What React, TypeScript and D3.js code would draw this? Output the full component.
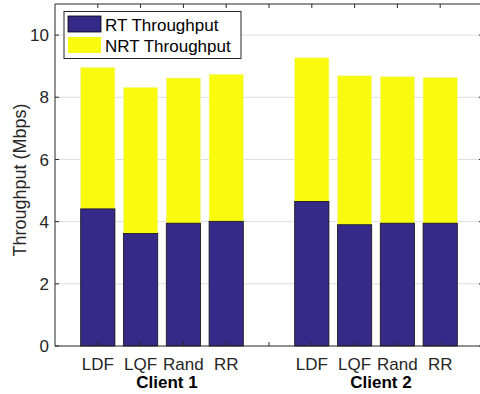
import React from "react";
import * as d3 from "d3";

// Scheduling policies per client and their throughput split (Mbps)
const policies = ["LDF", "LQF", "Rand", "RR"];
const clients = ["Client 1", "Client 2"];
const rtThroughput = [
  [4.41, 3.62, 3.95, 4.01],
  [4.65, 3.9, 3.95, 3.95],
];
const nrtThroughput = [
  [4.55, 4.7, 4.67, 4.73],
  [4.62, 4.79, 4.71, 4.68],
];
const yTicks = [0, 2, 4, 6, 8, 10];
const seriesNames = ["RT Throughput", "NRT Throughput"];
const seriesColors = ["#352a87", "#f9fb0e"];

const W = 480;
const H = 394;
const margin = { left: 55, top: 4, bottom: 48 };
const plotRight = 483;
const axisColor = "#262626";
const font = "'Liberation Sans', Arial, Helvetica, sans-serif";
const fs = 17;

export default function App() {
  const x = d3.scaleLinear().domain([0, 10]).range([margin.left, plotRight]);
  const y = d3.scaleLinear().domain([0, 11]).range([H - margin.bottom, margin.top]);
  const step = x(1) - x(0);
  const barW = step * 0.8;

  // Slot positions: client 1 at 1..4, gap at 5, client 2 at 6..9
  const slot = (ci: number, pi: number) => 1 + ci * (policies.length + 1) + pi;
  const xTickPositions = d3.range(1, 10);

  const bars: React.ReactNode[] = [];
  clients.forEach((_, ci) => {
    policies.forEach((p, pi) => {
      const cx = x(slot(ci, pi));
      const rt = rtThroughput[ci][pi];
      const total = rt + nrtThroughput[ci][pi];
      bars.push(
        <g key={`${ci}-${p}`}>
          <rect
            x={cx - barW / 2}
            y={y(total)}
            width={barW}
            height={y(rt) - y(total)}
            fill={seriesColors[1]}
            stroke="#f4f3a0"
            strokeWidth={0.6}
          />
          <rect
            x={cx - barW / 2}
            y={y(rt)}
            width={barW}
            height={y(0) - y(rt)}
            fill={seriesColors[0]}
            stroke="#111"
            strokeWidth={0.8}
          />
        </g>
      );
    });
  });

  const y0 = y(0);
  const yTop = y(11);

  return (
    <svg
      width={W}
      height={H}
      style={{ position: "absolute", left: 0, top: 0 }}
      fontFamily={font}
    >
      <rect width={W} height={H} fill="#fff" />
      {/* grid */}
      {yTicks.slice(1).map((t) => (
        <line
          key={`g${t}`}
          x1={x(0)}
          x2={plotRight}
          y1={y(t)}
          y2={y(t)}
          stroke="#dedede"
          strokeWidth={1}
        />
      ))}
      {bars}
      {/* axes box */}
      <line x1={x(0)} x2={plotRight} y1={y0} y2={y0} stroke={axisColor} strokeWidth={1} />
      <line x1={x(0)} x2={plotRight} y1={yTop} y2={yTop} stroke={axisColor} strokeWidth={1} />
      <line x1={x(0)} x2={x(0)} y1={yTop} y2={y0} stroke={axisColor} strokeWidth={1} />
      <line x1={plotRight} x2={plotRight} y1={yTop} y2={y0} stroke={axisColor} strokeWidth={1} />
      {/* y ticks */}
      {yTicks.map((t) => (
        <g key={`yt${t}`}>
          <line x1={x(0)} x2={x(0) + 4} y1={y(t)} y2={y(t)} stroke={axisColor} />
          <line x1={plotRight} x2={plotRight - 4} y1={y(t)} y2={y(t)} stroke={axisColor} />
          <text
            x={x(0) - 6}
            y={y(t)}
            dy="0.36em"
            textAnchor="end"
            fontSize={fs}
            fill={axisColor}
          >
            {t}
          </text>
        </g>
      ))}
      {/* x ticks */}
      {xTickPositions.map((p) => (
        <g key={`xt${p}`}>
          <line x1={x(p)} x2={x(p)} y1={yTop} y2={yTop + 4} stroke={axisColor} />
          <line x1={x(p)} x2={x(p)} y1={y0} y2={y0 - 4} stroke={axisColor} />
        </g>
      ))}
      {clients.map((c, ci) => (
        <g key={c}>
          {policies.map((p, pi) => (
            <text
              key={p}
              x={x(slot(ci, pi))}
              y={370}
              textAnchor="middle"
              fontSize={fs}
              fill={axisColor}
            >
              {p}
            </text>
          ))}
          <text
            x={(x(slot(ci, 1)) + x(slot(ci, 2))) / 2 + 5}
            y={387.5}
            textAnchor="middle"
            fontSize={fs}
            fontWeight="bold"
            fill="#000"
          >
            {c}
          </text>
        </g>
      ))}
      {/* y label */}
      <text
        transform={`translate(25.5, 180) rotate(-90)`}
        textAnchor="middle"
        fontSize={18}
        fill={axisColor}
      >
        Throughput (Mbps)
      </text>
      {/* legend */}
      <g>
        <rect x={64} y={11.5} width={177} height={47} fill="#fff" stroke={axisColor} strokeWidth={1} />
        {seriesNames.map((n, i) => (
          <g key={n}>
            <rect
              x={68}
              y={16 + i * 21}
              width={33}
              height={16}
              fill={seriesColors[i]}
              stroke={i === 0 ? "#000" : "none"}
              strokeWidth={0.8}
            />
            <text x={105} y={30.5 + i * 21} fontSize={fs} fill="#000">
              {n}
            </text>
          </g>
        ))}
      </g>
    </svg>
  );
}
